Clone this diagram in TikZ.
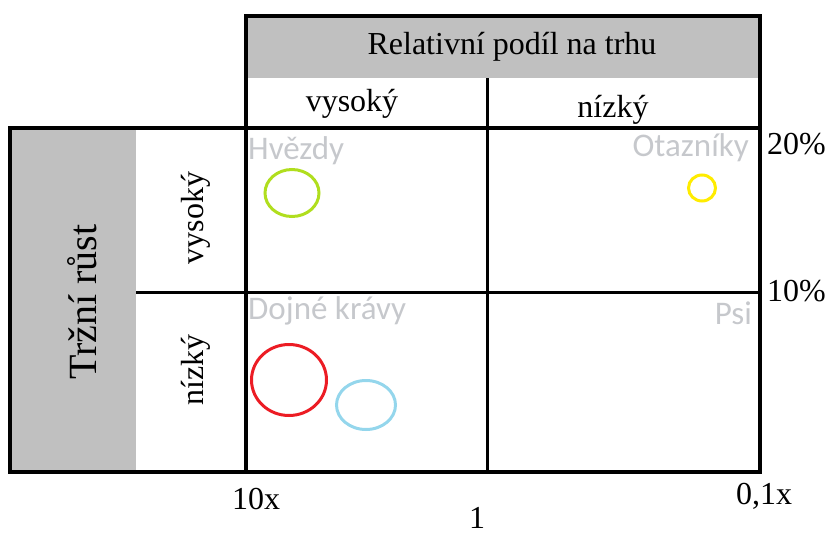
\documentclass[tikz,border=0pt]{standalone}
\usepackage{fontspec}
\setmainfont{Liberation Serif}
\newfontfamily\labelfont{Carlito}
\definecolor{headgray}{RGB}{192,192,192}
\definecolor{quadgray}{RGB}{198,200,204}
\definecolor{stargreen}{RGB}{176,222,30}
\definecolor{qyellow}{RGB}{255,236,0}
\definecolor{cowred}{RGB}{236,28,36}
\definecolor{cowblue}{RGB}{148,214,236}
\tikzset{
  outer/.style={line width=4.5pt},
  inner/.style={line width=3pt},
  serif/.style={font=\fontsize{32}{36}\selectfont, inner sep=0pt},
  bigserif/.style={font=\fontsize{40}{44}\selectfont, inner sep=0pt},
  quadlabel/.style={font=\labelfont\fontsize{33}{36}\selectfont, text=quadgray, inner sep=0pt},
  bubble/.style={line width=3pt},
}
\begin{document}
\begin{tikzpicture}[x=1pt,y=-1pt]
\useasboundingbox (0,0) rectangle (830,536);
% header: market share
\fill[headgray] (246,16) rectangle (760,78);
\draw[inner] (487,78) -- (487,128);
\draw[outer] (246,16) rectangle (760,128);
\node[serif] (share) at (512,47) {Relativní podíl na trhu};
\node[serif] (sharehigh) at (352,104) {vysoký};
\node[serif] (sharelow) at (613,110) {nízký};
% left block: market growth
\fill[headgray] (10,128) rectangle (136,472);
\draw[inner] (136,292) -- (760,292);
\draw[inner] (487,128) -- (487,472);
\draw[outer] (246,128) -- (246,472);
\draw[outer] (10,128) rectangle (760,472);
\node[bigserif, rotate=90] (growth) at (82,302) {Tržní růst};
\node[serif, rotate=90] (growhigh) at (196,218) {vysoký};
\node[serif, rotate=90] (growlow) at (196,370) {nízký};
% quadrant names
\node[quadlabel, anchor=west] (stars) at (248,151) {Hvězdy};
\node[quadlabel, anchor=east] (quest) at (749,148) {Otazníky};
\node[quadlabel, anchor=west] (cows) at (248,311) {Dojné krávy};
\node[quadlabel, anchor=east] (dogs) at (752,313) {Psi};
% business units
\draw[bubble, stargreen] (292,193) ellipse (27 and 23.5);
\draw[bubble, qyellow] (702,188) ellipse (13.5 and 13);
\draw[bubble, cowred] (289,380) ellipse (37.5 and 35.5);
\draw[bubble, cowblue] (366,405) ellipse (29.5 and 24.5);
% axis values
\node[serif, anchor=west] (g20) at (767,144) {20\%};
\node[serif, anchor=west] (g10) at (767,291) {10\%};
\node[serif] (s10) at (256,499) {10x};
\node[serif] (s1) at (477,518) {1};
\node[serif] (s01) at (764,496) {0,1x};
\end{tikzpicture}
\end{document}
